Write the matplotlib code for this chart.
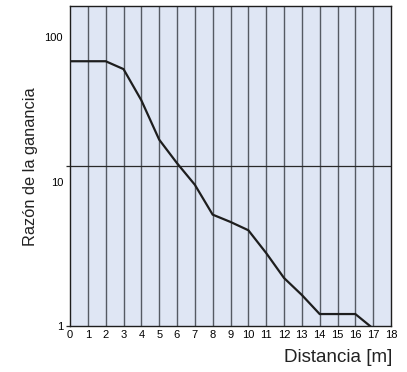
import matplotlib
matplotlib.use("Agg")
import matplotlib.pyplot as plt
from matplotlib.ticker import FixedLocator, FuncFormatter

# Gain ratio versus distance
distance = [0, 2, 3, 4, 5, 6, 7, 8, 9, 10, 11, 12, 13, 14, 16, 17]
gain = [68, 68, 60, 36.5, 19.5, 13.4, 9.5, 5.9, 5.25, 4.6, 3.2, 2.15, 1.64, 1.21, 1.21, 0.96]
ref_level = 12.8
x_ticks = list(range(0, 19))
y_labels = [1, 10, 100]

plt.rcParams['font.family'] = ['Liberation Sans', 'DejaVu Sans']

fig = plt.figure(figsize=(4.07, 3.72), dpi=100)
ax = fig.add_axes([70 / 407, 1 - 326 / 372, 321 / 407, 320 / 372])
ax.set_facecolor('#dfe6f4')
ax.set_yscale('log')
ax.set_xlim(0, 18)
ax.set_ylim(1, 164)

for x in x_ticks[1:-1]:
    ax.axvline(x, color='#555a63', lw=1.0, zorder=1)
ax.axhline(ref_level, color='#2a2a2a', lw=0.9, zorder=1)

ax.plot(distance, gain, color='#1e1e1e', lw=1.6, zorder=3, solid_joinstyle='miter')

ax.set_xticks(x_ticks)
ax.set_xticklabels([str(v) for v in x_ticks], fontsize=8)
ax.tick_params(axis='x', length=0, pad=3)


def label_value(v, pos):
    return f"{v:g}" if v in y_labels else ""


# short outward ticks at the base and the reference line, plain labels at decades
ax.yaxis.set_major_locator(FixedLocator([1, ref_level]))
ax.yaxis.set_major_formatter(FuncFormatter(label_value))
ax.yaxis.set_minor_locator(FixedLocator([v for v in y_labels if v != 1]))
ax.yaxis.set_minor_formatter(FuncFormatter(label_value))
ax.tick_params(axis='y', which='major', length=3, width=0.9, color='#2a2a2a',
               labelsize=8, pad=2)
ax.tick_params(axis='y', which='minor', length=0, labelsize=8, pad=5)

for s in ax.spines.values():
    s.set_color('#1e1e1e')
    s.set_linewidth(1.0)

fig.text(31 / 407, 1 - 167 / 372, 'Razón de la ganancia', rotation=90,
         ha='center', va='center', fontsize=11.8, color='#222222')
fig.text(392 / 407, 1 - 358 / 372, 'Distancia [m]', ha='right', va='center',
         fontsize=13.5, color='#222222')

fig.savefig('out.png', dpi=100)
